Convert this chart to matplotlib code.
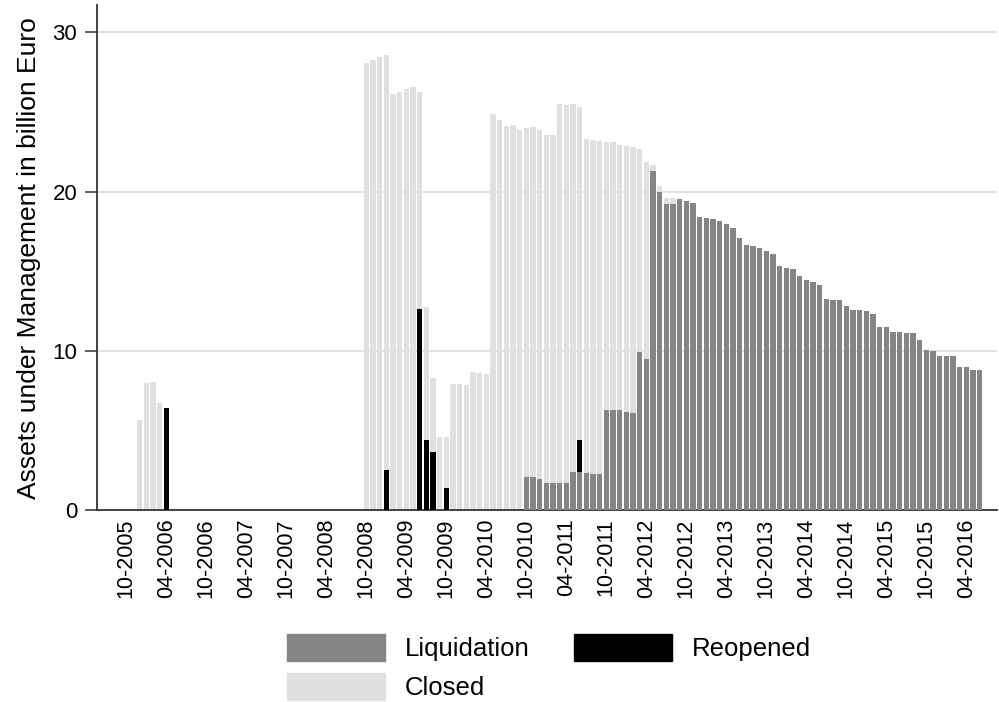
import numpy as np
import matplotlib
matplotlib.use("Agg")
import matplotlib.pyplot as plt
from matplotlib.patches import Patch

plt.rcParams['font.family'] = ['Liberation Sans', 'DejaVu Sans']

# monthly fund volumes (billion Euro)
closed_months = ['12-2005', '01-2006', '02-2006', '03-2006',
                 '10-2008', '11-2008', '12-2008', '01-2009', '02-2009', '03-2009',
                 '04-2009', '05-2009', '06-2009', '07-2009', '08-2009', '09-2009',
                 '10-2009', '11-2009', '12-2009', '01-2010', '02-2010', '03-2010',
                 '04-2010', '05-2010', '06-2010', '07-2010', '08-2010', '09-2010',
                 '10-2010', '11-2010', '12-2010', '01-2011', '02-2011', '03-2011',
                 '04-2011', '05-2011', '06-2011', '07-2011', '08-2011', '09-2011',
                 '10-2011', '11-2011', '12-2011', '01-2012', '02-2012', '03-2012',
                 '04-2012', '05-2012', '06-2012', '07-2012', '08-2012']
closed_values = [5.67, 7.97, 8.04, 6.72,
                 28.04, 28.24, 28.43, 28.57, 26.11, 26.24,
                 26.41, 26.55, 26.24, 12.76, 8.31, 4.63,
                 4.63, 7.93, 7.93, 7.87, 8.68, 8.62,
                 8.56, 24.84, 24.48, 24.13, 24.15, 23.88,
                 24.00, 24.06, 23.86, 23.54, 23.54, 25.49,
                 25.44, 25.49, 25.30, 23.29, 23.23, 23.17,
                 23.10, 23.10, 22.94, 22.87, 22.81, 22.69,
                 21.85, 21.66, 20.34, 19.61, 19.61]

reopened_months = ['04-2006', '01-2009', '06-2009', '07-2009', '08-2009', '10-2009', '06-2011']
reopened_values = [6.43, 2.54, 12.65, 4.42, 3.65, 1.41, 4.42]

liquidation_months = ['10-2010', '11-2010', '12-2010', '01-2011', '02-2011', '03-2011',
                      '04-2011', '05-2011', '06-2011', '07-2011', '08-2011', '09-2011',
                      '10-2011', '11-2011', '12-2011', '01-2012', '02-2012', '03-2012',
                      '04-2012', '05-2012', '06-2012', '07-2012', '08-2012', '09-2012',
                      '10-2012', '11-2012', '12-2012', '01-2013', '02-2013', '03-2013',
                      '04-2013', '05-2013', '06-2013', '07-2013', '08-2013', '09-2013',
                      '10-2013', '11-2013', '12-2013', '01-2014', '02-2014', '03-2014',
                      '04-2014', '05-2014', '06-2014', '07-2014', '08-2014', '09-2014',
                      '10-2014', '11-2014', '12-2014', '01-2015', '02-2015', '03-2015',
                      '04-2015', '05-2015', '06-2015', '07-2015', '08-2015', '09-2015',
                      '10-2015', '11-2015', '12-2015', '01-2016', '02-2016', '03-2016',
                      '04-2016', '05-2016', '06-2016']
liquidation_values = [2.08, 2.08, 1.97, 1.74, 1.74, 1.74,
                      1.74, 2.43, 2.43, 2.37, 2.29, 2.29,
                      6.30, 6.30, 6.30, 6.18, 6.09, 9.96,
                      9.48, 21.27, 19.95, 19.24, 19.24, 19.53,
                      19.43, 19.28, 18.40, 18.34, 18.28, 18.15,
                      17.96, 17.73, 17.08, 16.65, 16.58, 16.48,
                      16.27, 16.08, 15.31, 15.22, 15.16, 14.70,
                      14.47, 14.33, 14.16, 13.28, 13.22, 13.20,
                      12.84, 12.55, 12.55, 12.53, 12.32, 11.49,
                      11.49, 11.19, 11.17, 11.15, 11.15, 10.69,
                      10.04, 10.00, 9.69, 9.69, 9.69, 9.00,
                      9.00, 8.83, 8.83]

tick_labels = ['10-2005', '04-2006', '10-2006', '04-2007', '10-2007', '04-2008',
               '10-2008', '04-2009', '10-2009', '04-2010', '10-2010', '04-2011',
               '10-2011', '04-2012', '10-2012', '04-2013', '10-2013', '04-2014',
               '10-2014', '04-2015', '10-2015', '04-2016']


def month_index(s):
    # months since 10-2005
    m, y = s.split('-')
    return (int(y) - 2005) * 12 + int(m) - 10


def main():
    fig = plt.figure(figsize=(9.99, 7.02), dpi=100)
    ax = fig.add_axes([0.0968, 0.2728, 0.9012, 0.7201])

    w = 0.8
    ax.bar([month_index(s) for s in closed_months], closed_values, width=w,
           color='#e0e0e0', zorder=2)
    ax.bar([month_index(s) for s in reopened_months], reopened_values, width=w,
           color='black', zorder=3)
    ax.bar([month_index(s) for s in liquidation_months], liquidation_values, width=w,
           color='#858585', zorder=4)

    ax.set_xlim(-4.44, 130.6)
    ax.set_ylim(0, 31.7)

    ax.set_yticks([0, 10, 20, 30])
    ax.set_xticks([month_index(s) for s in tick_labels])
    ax.set_xticklabels(tick_labels, rotation=90, fontsize=15.5)
    ax.tick_params(axis='x', length=0, pad=6)
    ax.tick_params(axis='y', labelsize=16, length=9, width=1.1, color='#333333', pad=5)

    for v in [10, 20, 30]:
        ax.axhline(v, color='#e0e0e0', lw=1.3, zorder=1)

    for side in ['top', 'right']:
        ax.spines[side].set_visible(False)
    for side in ['left', 'bottom']:
        ax.spines[side].set_color('#333333')
        ax.spines[side].set_linewidth(1.3)

    ax.set_ylabel('Assets under Management in billion Euro', fontsize=19, labelpad=8)

    handles = [Patch(color='#858585', label='Liquidation'),
               Patch(color='#e0e0e0', label='Closed'),
               Patch(color='black', label='Reopened')]
    fig.legend(handles=handles, loc='upper left', bbox_to_anchor=(287 / 999, 1 - 634 / 702),
               ncol=2, frameon=False, fontsize=18.5, handlelength=3.8, handleheight=1.24,
               handletextpad=0.78, columnspacing=1.75, labelspacing=0.47, borderpad=0,
               borderaxespad=0)

    plt.savefig('out.png', dpi=100)


if __name__ == "__main__":
    main()
